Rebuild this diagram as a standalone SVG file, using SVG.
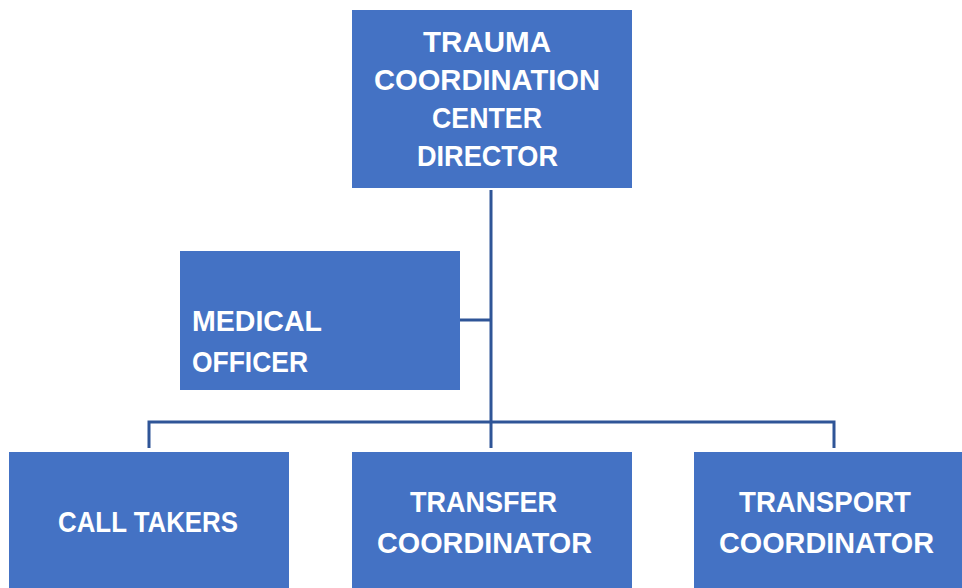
<svg xmlns="http://www.w3.org/2000/svg" width="962" height="588" viewBox="0 0 962 588">
<style>
.box{fill:#4472C4}
.t{font-family:"Liberation Sans",Arial,sans-serif;font-weight:bold;font-size:30px;fill:#FFFFFF}
.c{stroke:#2F5597;stroke-width:3;fill:none}
</style>
<rect width="962" height="588" fill="#FFFFFF"/>
<g id="connectors">
<path class="c" d="M491,190 V448"/>
<path class="c" d="M460,320 H491"/>
<path class="c" d="M149,448 V422 H834 V448"/>
</g>
<g id="director">
<rect class="box" x="352" y="10" width="280" height="178"/>
<text class="t" x="423" y="52" textLength="128" lengthAdjust="spacingAndGlyphs">TRAUMA</text>
<text class="t" x="374" y="90" textLength="226" lengthAdjust="spacingAndGlyphs">COORDINATION</text>
<text class="t" x="432" y="128" textLength="110" lengthAdjust="spacingAndGlyphs">CENTER</text>
<text class="t" x="417" y="166" textLength="141" lengthAdjust="spacingAndGlyphs">DIRECTOR</text>
</g>
<g id="medical-officer">
<rect class="box" x="180" y="251" width="280" height="139"/>
<text class="t" x="192" y="331" textLength="130" lengthAdjust="spacingAndGlyphs">MEDICAL</text>
<text class="t" x="192" y="372" textLength="116" lengthAdjust="spacingAndGlyphs">OFFICER</text>
</g>
<g id="call-takers">
<rect class="box" x="9" y="452" width="280" height="140"/>
<text class="t" x="58" y="532" textLength="180" lengthAdjust="spacingAndGlyphs">CALL TAKERS</text>
</g>
<g id="transfer-coordinator">
<rect class="box" x="352" y="452" width="280" height="140"/>
<text class="t" x="410" y="512" textLength="147" lengthAdjust="spacingAndGlyphs">TRANSFER</text>
<text class="t" x="377" y="553" textLength="215" lengthAdjust="spacingAndGlyphs">COORDINATOR</text>
</g>
<g id="transport-coordinator">
<rect class="box" x="694" y="452" width="280" height="140"/>
<text class="t" x="739" y="512" textLength="172" lengthAdjust="spacingAndGlyphs">TRANSPORT</text>
<text class="t" x="719" y="553" textLength="215" lengthAdjust="spacingAndGlyphs">COORDINATOR</text>
</g>
</svg>
